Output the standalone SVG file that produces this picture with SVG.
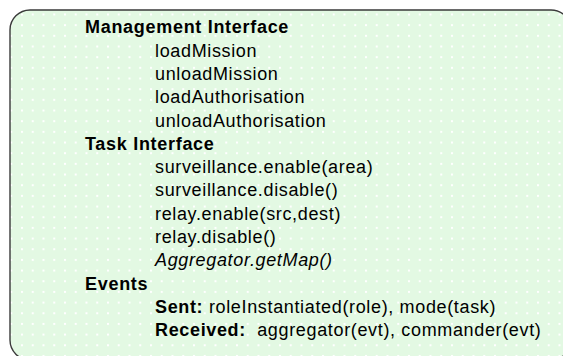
<svg xmlns="http://www.w3.org/2000/svg" width="563" height="356" viewBox="0 0 563 356">
  <defs>
    <pattern id="dots" patternUnits="userSpaceOnUse" x="10.25" y="13.5" width="10.75" height="10.67">
      <rect x="0" y="0" width="2" height="2" fill="#ffffff"/>
    </pattern>
    <style>
      .panel { fill: #e3f9e3; }
      .panel-dots { fill: url(#dots); }
      .panel-edge { fill: none; stroke: #3a3a3a; stroke-width: 1.4; }
      text { font-family: "Liberation Sans", Arial, sans-serif; font-size: 18px; fill: #000; letter-spacing: 0.65px; }
      .head { font-weight: bold; letter-spacing: 0.7px; }
      .b { font-weight: bold; }
      .it { font-style: italic; }
    </style>
  </defs>
  <rect width="563" height="356" fill="#ffffff"/>

  <g id="interface-panel">
    <rect class="panel" x="10" y="10" width="561" height="350" rx="20" ry="20"/>
    <rect class="panel-dots" x="10" y="10" width="561" height="350" rx="20" ry="20"/>
    <rect class="panel-edge" x="10" y="10" width="561" height="350" rx="20" ry="20"/>

    <g id="management-interface">
      <text class="head" x="85" y="33.3">Management Interface</text>
      <text x="155" y="56.6">loadMission</text>
      <text x="155" y="79.9">unloadMission</text>
      <text x="155" y="103.2">loadAuthorisation</text>
      <text x="155" y="126.5">unloadAuthorisation</text>
    </g>

    <g id="task-interface">
      <text class="head" x="85" y="149.8">Task Interface</text>
      <text x="155" y="173.1">surveillance.enable(area)</text>
      <text x="155" y="196.4">surveillance.disable()</text>
      <text x="155" y="219.7">relay.enable(src,dest)</text>
      <text x="155" y="243">relay.disable()</text>
      <text class="it" x="155" y="266.3">Aggregator.getMap()</text>
    </g>

    <g id="events">
      <text class="head" x="85" y="289.6">Events</text>
      <text x="155" y="312.9"><tspan class="b">Sent:</tspan> roleInstantiated(role), mode(task)</text>
      <text x="155" y="336.2" xml:space="preserve"><tspan class="b">Received:</tspan>  aggregator(evt), commander(evt)</text>
    </g>
  </g>

  <g id="connectors"/>
</svg>
